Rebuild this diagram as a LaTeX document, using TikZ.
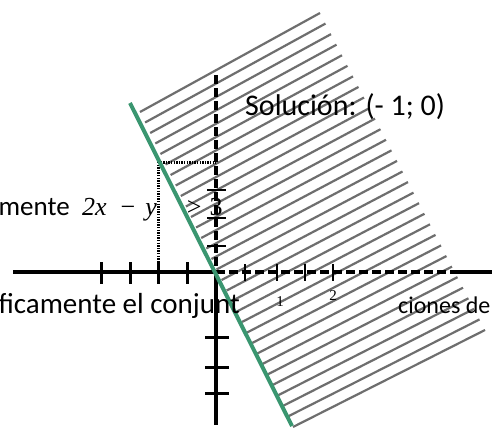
\documentclass[tikz,border=0pt]{standalone}
\usepackage{fontspec}
\setmainfont{Carlito}
\newfontfamily\serifmath{Liberation Serif}
\usetikzlibrary{calc}
\definecolor{linegreen}{RGB}{58,150,112}
\definecolor{hatchgray}{RGB}{110,110,110}
\tikzset{
  axisline/.style={line width=3.2pt, black},
  dashedaxis/.style={line width=3.2pt, black, dash pattern=on 9pt off 4pt},
  tickmark/.style={line width=3pt, black},
  smalltick/.style={line width=2pt, black},
  dottedline/.style={line width=3pt, black, dash pattern=on 1.4pt off 1.2pt},
  hatchline/.style={line width=2.2pt, hatchgray},
  boundary/.style={line width=4pt, linegreen},
  txt/.style={inner sep=0pt, font=\fontsize{29}{32}\selectfont},
}
\begin{document}
\begin{tikzpicture}[x=1pt, y=-1pt]
\useasboundingbox[fill=white] (0,0) rectangle (493,428);
% hatch parallelogram corners
\coordinate (P0) at (140,112);
\coordinate (P1) at (320,13);
\coordinate (P2) at (485,330);
\coordinate (P3) at (293,427);
\foreach \i in {0,...,30}{
  \draw[hatchline] ($(P0)!\i/30!(P3)$) -- ($(P1)!\i/30!(P2)$);
}
% axes
\coordinate (O) at (216,272);
\coordinate (xl) at (13,272);
\coordinate (xd) at (457,272);
\coordinate (xr) at (492,272);
\coordinate (yt) at (216,75);
\coordinate (yb) at (216,425);
\draw[axisline] (xl) -- (O);
\draw[dashedaxis] (O) -- (xd);
\draw[axisline] (xd) -- (xr);
\draw[dashedaxis] (yt) -- (O);
\draw[axisline] (O) -- (yb);
% x ticks left
\foreach \x in {101,130,158,187}{
  \draw[tickmark] (\x,262) -- (\x,284);
}
% x ticks right
\foreach \x in {245,277,305,333}{
  \draw[smalltick] (\x,264) -- (\x,281);
}
% y ticks
\foreach \y in {190,218,246}{
  \draw[smalltick] (207,\y) -- (226,\y);
}
\foreach \y in {337,367,393}{
  \draw[tickmark] (205,\y) -- (229,\y);
}
% dotted guide lines
\coordinate (Pt) at (158,162);
\coordinate (Px) at (158,272);
\coordinate (Py) at (216,162);
\draw[dottedline] (Pt) -- (Px);
\draw[dottedline] (Pt) -- (Py);
% boundary line
\coordinate (Lt) at (130,103);
\coordinate (Lb) at (292,426);
\draw[boundary] (Lt) -- (Lb);
% texts
\node[txt, anchor=base west, font=\fontsize{30}{34}\selectfont] (sol) at (245,115) {Solución: (- 1; 0)};
\node[txt, anchor=base east, font=\fontsize{27}{32}\selectfont] (mente) at (70,215) {mente};
\node[inner sep=0pt, anchor=base west, font=\serifmath\fontsize{26}{30}\selectfont] (ineq) at (82,215)
  {\itshape 2x\hspace{14pt}\upshape −\hspace{10pt}\itshape y\hspace{30pt}\upshape >\hspace{8pt}3};
\node[txt, anchor=base east] (conj) at (240,313) {ficamente el conjunt};
\node[txt, anchor=base west, font=\fontsize{24}{30}\selectfont] (cion) at (398,313) {ciones de};
\node[inner sep=0pt, anchor=base, font=\serifmath\fontsize{15}{16}\selectfont] (one) at (280,306) {1};
\node[inner sep=0pt, anchor=base, font=\serifmath\fontsize{15}{16}\selectfont] (two) at (333,300) {2};
\end{tikzpicture}
\end{document}
